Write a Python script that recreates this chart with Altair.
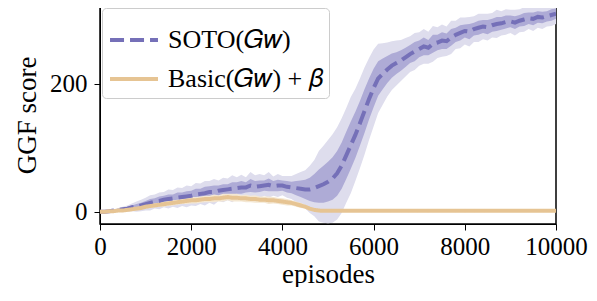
import altair as alt
import pandas as pd

episodes = list(range(0, 10001, 100))

soto_mean = [0, 0, 1, 2, 3, 4, 5, 7, 8, 10,
             12, 14, 16, 17, 19, 20, 21, 22, 23, 24,
             25, 27, 28, 29, 31, 31, 33, 34, 35, 36,
             37, 38, 38, 41, 39, 40, 41, 42, 40, 41,
             41, 39, 38, 37, 36, 35, 35, 37, 40, 43,
             47, 52, 60, 72, 88, 104, 120, 138, 157, 176,
             193, 208, 215, 222, 228, 232, 236, 241, 246, 250,
             254, 258, 256, 262, 264, 267, 266, 272, 276, 279,
             282, 281, 285, 287, 289, 288, 291, 293, 294, 296,
             297, 295, 298, 300, 302, 301, 304, 303, 305, 307,
             309]
soto_inner = [0.5, 0.5, 1, 1, 2, 2, 3, 3, 4, 4,
              5, 6, 5, 7, 6, 7, 6, 8, 7, 8,
              8, 9, 8, 10, 9, 10, 8, 9, 8, 10,
              9, 10, 8, 10, 9, 9, 8, 10, 8, 9,
              8, 9, 9, 11, 13, 15, 18, 22, 26, 29,
              31, 33, 35, 36, 37, 37, 36, 35, 34, 32,
              30, 27, 24, 21, 19, 17, 16, 15, 14, 15,
              13, 14, 12, 14, 12, 13, 12, 13, 11, 12,
              10, 12, 10, 11, 10, 11, 10, 11, 10, 10,
              9, 10, 9, 10, 9, 10, 9, 9, 8, 9,
              8]
soto_outer = [1, 1, 2, 2, 3, 4, 5, 6, 8, 9,
              10, 12, 11, 13, 12, 15, 13, 16, 14, 17,
              15, 18, 16, 19, 17, 20, 16, 19, 17, 21,
              17, 20, 16, 21, 18, 19, 16, 20, 15, 18,
              15, 17, 18, 22, 26, 30, 37, 44, 55, 60,
              65, 69, 72, 74, 74, 75, 72, 70, 68, 64,
              60, 54, 48, 42, 38, 35, 32, 30, 28, 29,
              26, 27, 25, 28, 24, 25, 23, 26, 22, 24,
              21, 23, 20, 22, 20, 21, 19, 22, 19, 20,
              18, 20, 18, 19, 17, 19, 17, 18, 16, 17,
              16]

basic_mean = [0, 0, 1, 1, 2, 2, 3, 4, 5, 6,
              8, 9, 10, 11, 12, 13, 14, 15, 16, 17,
              18, 18, 19, 20, 20, 21, 21, 22, 23, 22,
              22, 21, 21, 20, 20, 19, 19, 18, 18, 17,
              16, 15, 14, 12, 10, 8, 5, 3, 2, 1.5] + [1.5] * 51
basic_band = [0.5, 0.5, 1, 1, 1, 1, 2, 2, 2, 2,
              3, 3, 3, 3, 4, 4, 4, 4, 4, 5,
              5, 5, 5, 5, 5, 6, 5, 6, 5, 6,
              6, 5, 6, 5, 6, 5, 5, 6, 5, 5,
              5, 5, 4, 4, 4, 3, 3, 2, 2, 1.5] + [1] * 51

series_names = ["SOTO(𝐺𝑤)", "Basic(𝐺𝑤) + 𝛽"]
colors = ["#7570b8", "#e6c493"]

rows = []
for i, e in enumerate(episodes):
    rows.append({"episode": e, "series": series_names[0], "mean": soto_mean[i],
                 "lo1": soto_mean[i] - soto_inner[i], "hi1": soto_mean[i] + soto_inner[i],
                 "lo2": soto_mean[i] - soto_outer[i], "hi2": soto_mean[i] + soto_outer[i]})
    rows.append({"episode": e, "series": series_names[1], "mean": basic_mean[i],
                 "lo1": basic_mean[i] - basic_band[i], "hi1": basic_mean[i] + basic_band[i],
                 "lo2": basic_mean[i] - basic_band[i], "hi2": basic_mean[i] + basic_band[i]})
df = pd.DataFrame(rows)

FONT = "Liberation Serif"
x = alt.X("episode:Q", scale=alt.Scale(domain=[0, 10000], nice=False),
          axis=alt.Axis(values=[0, 2000, 4000, 6000, 8000, 10000], title="episodes",
                        format="d", labelOverlap=False, labelFlush=False,
                        labelPadding=4, titlePadding=2))
yscale = alt.Scale(domain=[-19, 321], nice=False)

base = alt.Chart(df)
soto = base.transform_filter(alt.datum.series == series_names[0])
basic = base.transform_filter(alt.datum.series == series_names[1])

outer = soto.mark_area(color="#dedded", clip=True).encode(
    x=x, y=alt.Y("lo2:Q", scale=yscale,
                 axis=alt.Axis(values=[0, 200], title="GGF score", labelPadding=7, titlePadding=8)),
    y2="hi2:Q")
inner = soto.mark_area(color="#aeabd6", clip=True).encode(x=x, y=alt.Y("lo1:Q", scale=yscale), y2="hi1:Q")
bband = basic.mark_area(color="#f4e7d2", clip=True).encode(x=x, y=alt.Y("lo1:Q", scale=yscale), y2="hi1:Q")

color = alt.Color("series:N", scale=alt.Scale(domain=series_names, range=colors),
                  legend=alt.Legend(title=None, orient="top-left", offset=2,
                                    symbolType="stroke", symbolStrokeWidth=4, symbolSize=2300,
                                    labelFontSize=26, labelFont=FONT, labelColor="black",
                                    fillColor="white", strokeColor="#cccccc", cornerRadius=4,
                                    padding=6, rowPadding=-8, labelOffset=8))
dash = alt.StrokeDash("series:N", scale=alt.Scale(domain=series_names, range=[[14, 6], [1, 0]]),
                      legend=alt.Legend(title=None, orient="top-left"))

lines = base.mark_line(strokeWidth=4, clip=True).encode(
    x=x, y=alt.Y("mean:Q", scale=yscale), color=color, strokeDash=dash,
    order=alt.Order("episode:Q"))

chart = alt.layer(outer, inner, bband, lines).properties(
    width=456, height=218, padding={"left": 5, "top": -2, "right": 0, "bottom": 0}
).configure_view(stroke="black", strokeWidth=1.5).configure_axis(
    labelFont=FONT, titleFont=FONT, labelFontSize=25, titleFontSize=27,
    titleFontWeight="normal", labelColor="black", titleColor="black",
    domainColor="black", tickColor="black", grid=False, tickSize=6
)

chart.save("out.html", embed_options={"renderer": "svg", "actions": False})
